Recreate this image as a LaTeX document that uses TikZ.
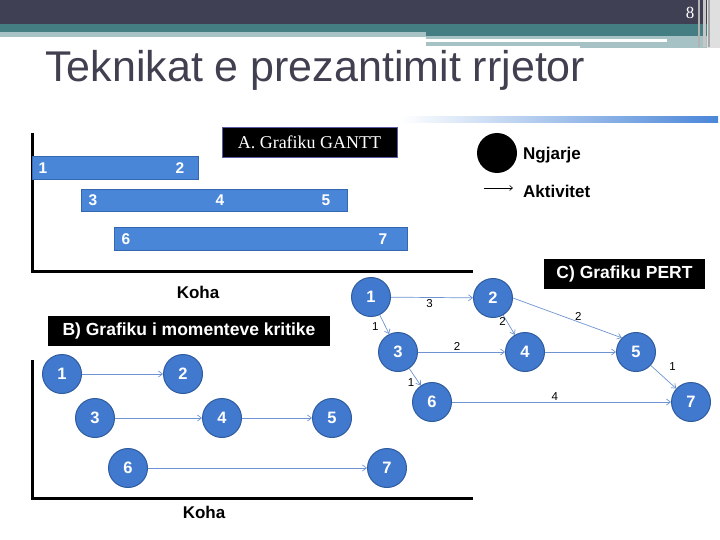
\documentclass[tikz,border=0pt]{standalone}
\usepackage{fontspec}
\setmainfont{Liberation Sans}
\newfontfamily\serifA{Liberation Serif}
\usetikzlibrary{arrows.meta}
\definecolor{hdark}{HTML}{404054}
\definecolor{hteal}{HTML}{457E82}
\definecolor{hlteal}{HTML}{A6C2C4}
\definecolor{titlec}{HTML}{404050}
\definecolor{evblue}{HTML}{4179CF}
\definecolor{evborder}{HTML}{2F5C9E}
\definecolor{barblue}{HTML}{4A86D8}
\definecolor{barborder}{HTML}{3566B0}
\definecolor{actblue}{HTML}{6D93D2}
\begin{document}
\begin{tikzpicture}[x=1pt,y=-1pt,
  ev/.style={circle, draw=evborder, fill=evblue, line width=1pt, minimum size=39pt, inner sep=0pt, text=white, font=\bfseries\fontsize{16.5}{16.5}\selectfont},
  barbox/.style={draw=barborder, fill=barblue, line width=0.8pt, anchor=north west, inner sep=0pt},
  barlbl/.style={text=white, font=\bfseries\fontsize{15.5}{15.5}\selectfont, inner sep=0pt},
  act/.style={draw=actblue, line width=0.7pt, -{Straight Barb[length=4pt,width=6pt]}},
  lbl/.style={font=\fontsize{11.5}{11.5}\selectfont, inner sep=1.5pt},
  blackbox/.style={fill=black, text=white, font=\bfseries\fontsize{17.5}{17.5}\selectfont, inner sep=0pt, minimum height=30pt},
  koha/.style={font=\bfseries\fontsize{17}{17}\selectfont, inner sep=0pt},
  legtxt/.style={anchor=west, font=\bfseries\fontsize{17}{17}\selectfont, inner sep=0pt}]
\useasboundingbox (0,0) rectangle (720,540);
% header
\fill[hdark] (0,0) rectangle (720,24);
\fill[hteal] (0,24) rectangle (707,32);
\fill[hteal] (426,32) rectangle (707,36);
\fill[hlteal] (0,32) rectangle (426,37);
\fill[hlteal] (426,36) rectangle (707,46);
\fill[hlteal] (580,46) rectangle (707,48);
\fill[white] (426,39) rectangle (667,42);
\fill[gray!25] (707,0) rectangle (720,48);
\fill[gray!60] (698,0) rectangle (700,47);
\fill[gray!45] (703,0) rectangle (706,47);
\fill[gray!70] (708,0) rectangle (710,47);
\node[text=white, font=\serifA\fontsize{17}{17}\selectfont, inner sep=0pt] (pnum) at (690,13) {8};
\node[anchor=base west, text=titlec, font=\fontsize{43}{45}\selectfont, inner sep=0pt] (title) at (45,82) {Teknikat e prezantimit rrjetor};
% gradient bar
\shade[left color=white, right color=barblue] (400,117) rectangle (718,123);
% Gantt chart
\coordinate (gtop) at (32,133);
\coordinate (gorig) at (32,271);
\coordinate (gend) at (473,271);
\draw[line width=3pt] (gtop) -- (gorig) -- (gend);
\node[barbox, minimum width=166pt, minimum height=23pt] (bar1) at (32,156) {};
\node[barbox, minimum width=266pt, minimum height=22pt] (bar2) at (81,189) {};
\node[barbox, minimum width=293pt, minimum height=23pt] (bar3) at (114,227) {};
\node[barlbl] (g1) at (43,168) {1};
\node[barlbl] (g2) at (180,168) {2};
\node[barlbl] (g3) at (93,200) {3};
\node[barlbl] (g4) at (220,200) {4};
\node[barlbl] (g5) at (326,200) {5};
\node[barlbl] (g6) at (126,239) {6};
\node[barlbl] (g7) at (383,239) {7};
\node[fill=black, draw=gray!70!blue, line width=0.8pt, text=white, font=\serifA\fontsize{18}{18}\selectfont, minimum width=175pt, minimum height=30pt, inner sep=0pt] (gantt) at (309.5,142) {A. Grafiku GANTT};
\node[koha] (kohaA) at (198,292) {Koha};
% legend
\node[circle, fill=black, minimum size=40pt, inner sep=0pt] (legc) at (497,153) {};
\node[legtxt] (ngj) at (523,155) {Ngjarje};
\coordinate (la) at (484,188);
\coordinate (lb) at (513,188);
\draw[line width=0.6pt, -{Straight Barb[length=3pt,width=5pt]}] (la) -- (lb);
\node[legtxt] (akt) at (523,191) {Aktivitet};
% PERT
\node[blackbox, minimum width=161pt] (pert) at (624.5,274) {C) Grafiku PERT};
\node[ev] (p1) at (371,297) {1};
\node[ev] (p2) at (493,298) {2};
\node[ev] (p3) at (398,352) {3};
\node[ev] (p4) at (525,352) {4};
\node[ev] (p5) at (636,352) {5};
\node[ev] (p6) at (432,402) {6};
\node[ev] (p7) at (691,402) {7};
\draw[act] (p1) -- node[lbl, below, pos=0.47] {3} (p2);
\draw[act] (p1) -- node[lbl, left, pos=0.6, xshift=-5pt] {1} (p3);
\draw[act] (p2) -- node[lbl, left, pos=0.3, inner sep=0.5pt] {2} (p4);
\draw[act] (p2.east) -- node[lbl, above, pos=0.6] {2} (p5.north west);
\draw[act] (p3) -- node[lbl, above, pos=0.45] {2} (p4);
\draw[act] (p4) -- (p5);
\draw[act] (p3) -- node[lbl, left, pos=0.85, xshift=-3pt] {1} (p6);
\draw[act] (p5) -- node[lbl, above right, pos=0.5, xshift=4pt, yshift=5pt] {1} (p7);
\draw[act] (p6) -- node[lbl, above, pos=0.47] {4} (p7);
% critical moments chart
\node[blackbox, minimum width=282pt] (crit) at (189,331) {B) Grafiku i momenteve kritike};
\coordinate (btop) at (32,360);
\coordinate (borig) at (32,498);
\coordinate (bend) at (473,498);
\draw[line width=3pt] (btop) -- (borig) -- (bend);
\node[ev] (b1) at (62,374) {1};
\node[ev] (b2) at (183,374) {2};
\node[ev] (b3) at (95,418) {3};
\node[ev] (b4) at (222,418) {4};
\node[ev] (b5) at (332,418) {5};
\node[ev] (b6) at (128,468) {6};
\node[ev] (b7) at (387,468) {7};
\draw[act] (b1) -- (b2);
\draw[act] (b3) -- (b4);
\draw[act] (b4) -- (b5);
\draw[act] (b6) -- (b7);
\node[koha] (kohaB) at (204,512) {Koha};
\end{tikzpicture}
\end{document}
